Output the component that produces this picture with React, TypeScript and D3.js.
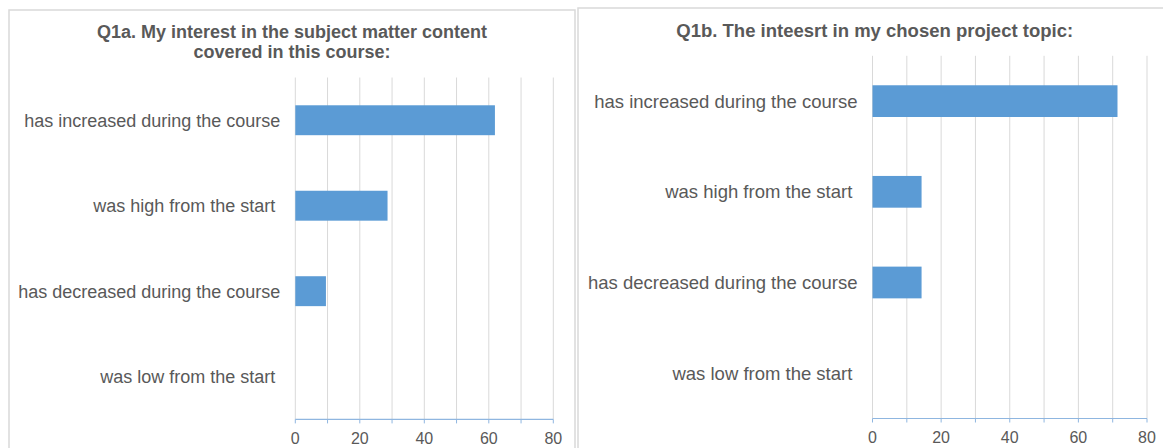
import React from "react";
import * as d3 from "d3";

// Survey answer categories (trailing spaces kept as typed in the survey sheet)
const categories: string[] = [
  "has increased during the course",
  "was high from the start ",
  "has decreased during the course",
  "was low from the start ",
];

// Percent of respondents per answer
const q1aValues: number[] = [61.9, 28.6, 9.5, 0];
const q1bValues: number[] = [71.4, 14.3, 14.3, 0];

const gridTicks: number[] = [0, 10, 20, 30, 40, 50, 60, 70, 80];
const labelTicks: number[] = [0, 20, 40, 60, 80];

const q1aTitle: string[] = [
  "Q1a. My interest in the subject matter content",
  "covered in this course:",
];
const q1bTitle: string[] = ["Q1b. The inteesrt in my chosen project topic:"];

const FONT = "'Liberation Sans', Arial, Helvetica, sans-serif";
const TEXT = "#595959";
const BAR = "#5B9BD5";
const GRID = "#d9d9d9";
const AXIS = "#8fb6e0";

interface PanelProps {
  box: { x: number; y: number; w: number; h: number };
  title: string[];
  titleX: number;
  titleY: number;
  titleSize: number;
  values: number[];
  xRange: [number, number];
  yRange: [number, number];
  labelSize: number;
}

function Panel(p: PanelProps) {
  const x = d3.scaleLinear().domain([0, 80]).range(p.xRange);
  const y = d3
    .scaleBand<string>()
    .domain(categories)
    .range(p.yRange)
    .paddingInner(0.65)
    .paddingOuter(0.325);
  const [top, bottom] = p.yRange;
  return (
    <g>
      <rect
        x={p.box.x}
        y={p.box.y}
        width={p.box.w}
        height={p.box.h}
        fill="#fff"
        stroke={GRID}
        strokeWidth={1.5}
      />
      {p.title.map((t, i) => (
        <text
          key={i}
          x={p.titleX}
          y={p.titleY + i * 20}
          textAnchor="middle"
          fontFamily={FONT}
          fontWeight="bold"
          fontSize={p.titleSize}
          fill={TEXT}
        >
          {t}
        </text>
      ))}
      {gridTicks.map((t) => (
        <line
          key={"g" + t}
          x1={x(t)}
          x2={x(t)}
          y1={top}
          y2={bottom}
          stroke={GRID}
          strokeWidth={1}
        />
      ))}
      {categories.map((c, i) => (
        <rect
          key={"b" + i}
          x={x(0)}
          y={y(c)}
          width={x(p.values[i]) - x(0)}
          height={y.bandwidth()}
          fill={BAR}
        />
      ))}
      {categories.map((c, i) => (
        <text
          key={"l" + i}
          x={x(0) - 15}
          y={(y(c) as number) + y.bandwidth() / 2}
          dy="0.36em"
          textAnchor="end"
          fontFamily={FONT}
          fontSize={p.labelSize}
          fill={TEXT}
          style={{ whiteSpace: "pre" }}
        >
          {c}
        </text>
      ))}
      <line
        x1={x(0)}
        x2={x(80)}
        y1={bottom}
        y2={bottom}
        stroke={AXIS}
        strokeWidth={1.2}
      />
      {gridTicks.map((t) => (
        <line
          key={"t" + t}
          x1={x(t)}
          x2={x(t)}
          y1={bottom}
          y2={bottom + 4}
          stroke={AXIS}
          strokeWidth={1}
        />
      ))}
      {labelTicks.map((t) => (
        <text
          key={"x" + t}
          x={x(t)}
          y={bottom + 19}
          dy="0.36em"
          textAnchor="middle"
          fontFamily={FONT}
          fontSize={16}
          fill={TEXT}
        >
          {t}
        </text>
      ))}
    </g>
  );
}

export default function App() {
  return (
    <svg
      width={1163}
      height={448}
      style={{ position: "absolute", left: 0, top: 0, background: "#fff" }}
    >
      <Panel
        box={{ x: 9, y: 10, w: 566, h: 500 }}
        title={q1aTitle}
        titleX={292}
        titleY={38.3}
        titleSize={18}
        values={q1aValues}
        xRange={[295.3, 553.3]}
        yRange={[77.5, 419.4]}
        labelSize={18}
      />
      <Panel
        box={{ x: 578, y: 8, w: 600, h: 500 }}
        title={q1bTitle}
        titleX={874.7}
        titleY={36.7}
        titleSize={18.5}
        values={q1bValues}
        xRange={[872.5, 1147]}
        yRange={[55.8, 418.5]}
        labelSize={18.5}
      />
    </svg>
  );
}
